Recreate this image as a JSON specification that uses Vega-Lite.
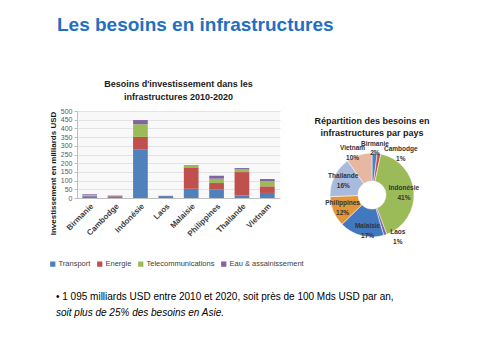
{
  "$schema": "https://vega.github.io/schema/vega-lite/v6.json",
  "background": "white",
  "padding": {"left": 49, "top": 16, "right": 0, "bottom": 0},
  "config": {"font": "Liberation Sans", "view": {"stroke": null}},
  "title": {"text": "Les besoins en infrastructures", "anchor": "start", "fontSize": 19, "fontWeight": "bold", "color": "#1F6FC4", "dx": 8, "offset": 45, "font": "Liberation Sans"},
  "spacing": 12,
  "vconcat": [
    {
      "resolve": {"scale": {"color": "independent", "theta": "independent"}, "legend": {"color": "independent"}},
      "hconcat": [
        {
          "width": 203,
          "height": 87,
          "data": {"values": [
            {"pays": "Birmanie", "type": "Transport", "ordre": 1, "valeur": 10},
            {"pays": "Birmanie", "type": "Energie", "ordre": 2, "valeur": 3},
            {"pays": "Birmanie", "type": "Telecommunications", "ordre": 3, "valeur": 5},
            {"pays": "Birmanie", "type": "Eau & assainissement", "ordre": 4, "valeur": 4},
            {"pays": "Cambodge", "type": "Transport", "ordre": 1, "valeur": 9},
            {"pays": "Cambodge", "type": "Energie", "ordre": 2, "valeur": 4},
            {"pays": "Cambodge", "type": "Telecommunications", "ordre": 3, "valeur": 2},
            {"pays": "Cambodge", "type": "Eau & assainissement", "ordre": 4, "valeur": 0},
            {"pays": "Indonésie", "type": "Transport", "ordre": 1, "valeur": 280},
            {"pays": "Indonésie", "type": "Energie", "ordre": 2, "valeur": 71},
            {"pays": "Indonésie", "type": "Telecommunications", "ordre": 3, "valeur": 73},
            {"pays": "Indonésie", "type": "Eau & assainissement", "ordre": 4, "valeur": 24},
            {"pays": "Laos", "type": "Transport", "ordre": 1, "valeur": 11},
            {"pays": "Laos", "type": "Energie", "ordre": 2, "valeur": 1},
            {"pays": "Laos", "type": "Telecommunications", "ordre": 3, "valeur": 1},
            {"pays": "Laos", "type": "Eau & assainissement", "ordre": 4, "valeur": 0},
            {"pays": "Malaisie", "type": "Transport", "ordre": 1, "valeur": 53},
            {"pays": "Malaisie", "type": "Energie", "ordre": 2, "valeur": 123},
            {"pays": "Malaisie", "type": "Telecommunications", "ordre": 3, "valeur": 10},
            {"pays": "Malaisie", "type": "Eau & assainissement", "ordre": 4, "valeur": 3},
            {"pays": "Philippines", "type": "Transport", "ordre": 1, "valeur": 48},
            {"pays": "Philippines", "type": "Energie", "ordre": 2, "valeur": 38},
            {"pays": "Philippines", "type": "Telecommunications", "ordre": 3, "valeur": 25},
            {"pays": "Philippines", "type": "Eau & assainissement", "ordre": 4, "valeur": 17},
            {"pays": "Thailande", "type": "Transport", "ordre": 1, "valeur": 15},
            {"pays": "Thailande", "type": "Energie", "ordre": 2, "valeur": 134},
            {"pays": "Thailande", "type": "Telecommunications", "ordre": 3, "valeur": 15},
            {"pays": "Thailande", "type": "Eau & assainissement", "ordre": 4, "valeur": 8},
            {"pays": "Vietnam", "type": "Transport", "ordre": 1, "valeur": 29},
            {"pays": "Vietnam", "type": "Energie", "ordre": 2, "valeur": 38},
            {"pays": "Vietnam", "type": "Telecommunications", "ordre": 3, "valeur": 30},
            {"pays": "Vietnam", "type": "Eau & assainissement", "ordre": 4, "valeur": 12}
          ]},
          "title": {"text": ["Besoins d'investissement dans les", "infrastructures 2010-2020"], "fontSize": 9, "fontWeight": "bold", "color": "#1a1a1a", "lineHeight": 13, "offset": 5},
          "view": {"fill": "#f8f8f8"},
          "mark": {"type": "bar"},
          "encoding": {
            "x": {"field": "pays", "type": "nominal", "sort": ["Birmanie", "Cambodge", "Indonésie", "Laos", "Malaisie", "Philippines", "Thailande", "Vietnam"], "scale": {"paddingInner": 0.42, "paddingOuter": 0.21}, "axis": {"title": null, "labelAngle": -45, "labelFontSize": 8, "labelFontWeight": "bold", "labelColor": "#404040", "ticks": false, "domainColor": "#bfbfbf", "labelPadding": 4}},
            "y": {"field": "valeur", "type": "quantitative", "stack": true, "scale": {"domain": [0, 500]}, "axis": {"values": [0, 50, 100, 150, 200, 250, 300, 350, 400, 450, 500], "title": "Investissement en milliards USD", "titleFontSize": 8, "titleFontWeight": "bold", "titleColor": "#1a1a1a", "titleY": 62, "titlePadding": 3, "labelFontSize": 7, "labelColor": "#595959", "tickSize": 3, "tickColor": "#bfbfbf", "domainColor": "#bfbfbf", "gridColor": "#e3e3e3"}},
            "order": {"field": "ordre", "type": "quantitative", "sort": "ascending"},
            "color": {"field": "type", "type": "nominal", "sort": ["Transport", "Energie", "Telecommunications", "Eau & assainissement"], "scale": {"domain": ["Transport", "Energie", "Telecommunications", "Eau & assainissement"], "range": ["#4F81BD", "#C0504D", "#9BBB59", "#8064A2"]}, "legend": {"title": null, "orient": "none", "legendX": -28, "legendY": 149, "direction": "horizontal", "columns": 4, "symbolType": "square", "symbolSize": 28, "labelFontSize": 7.5, "labelColor": "#404040", "columnPadding": 5, "labelOffset": 2}}
          }
        },
        {
          "width": 100,
          "height": 168,
          "data": {"values": [
            {"pays": "Birmanie", "part": 0.02},
            {"pays": "Cambodge", "part": 0.014},
            {"pays": "Indonésie", "part": 0.409},
            {"pays": "Laos", "part": 0.012},
            {"pays": "Malaisie", "part": 0.172},
            {"pays": "Philippines", "part": 0.117},
            {"pays": "Thailande", "part": 0.157},
            {"pays": "Vietnam", "part": 0.099}
          ]},
          "title": {"text": ["Répartition des besoins en", "infrastructures par pays"], "fontSize": 9, "fontWeight": "bold", "color": "#1a1a1a", "lineHeight": 12, "offset": -27},
          "encoding": {"theta": {"field": "part", "type": "quantitative", "stack": true}, "order": {"field": "pays", "type": "nominal", "sort": "ascending"}},
          "layer": [
            {"mark": {"type": "arc", "outerRadius": 42, "innerRadius": 14, "stroke": "white", "strokeWidth": 0.5},
             "encoding": {"color": {"field": "pays", "type": "nominal", "scale": {"domain": ["Birmanie", "Cambodge", "Indonésie", "Laos", "Malaisie", "Philippines", "Thailande", "Vietnam"], "range": ["#4F81BD", "#C0504D", "#9BBB59", "#8064A2", "#4278BD", "#E49537", "#A9BBDD", "#E6B8A2"]}, "legend": null}}},
            {"mark": {"type": "text", "radius": 32, "dy": -5, "fontSize": 6.5, "fontWeight": "bold", "color": "#333333"},
             "encoding": {"text": {"condition": {"test": "indexof(['Indonésie','Philippines','Thailande'], datum.pays) >= 0", "field": "pays", "type": "nominal"}, "value": ""}}},
            {"mark": {"type": "text", "radius": 32, "dy": 5, "fontSize": 6.5, "fontWeight": "bold", "color": "#333333"},
             "encoding": {"text": {"condition": {"test": "indexof(['Indonésie','Philippines','Thailande'], datum.pays) >= 0", "field": "part", "type": "quantitative", "format": ".0%"}, "value": ""}}},
            {"mark": {"type": "text", "radius": 37, "dx": 5, "dy": -5, "fontSize": 6.5, "fontWeight": "bold", "color": "#333333"},
             "encoding": {"text": {"condition": {"test": "datum.pays == 'Malaisie'", "field": "pays", "type": "nominal"}, "value": ""}}},
            {"mark": {"type": "text", "radius": 37, "dx": 5, "dy": 5, "fontSize": 6.5, "fontWeight": "bold", "color": "#333333"},
             "encoding": {"text": {"condition": {"test": "datum.pays == 'Malaisie'", "field": "part", "type": "quantitative", "format": ".0%"}, "value": ""}}},
            {"mark": {"type": "text", "radius": 44, "dx": -6, "dy": -5, "fontSize": 6.5, "fontWeight": "bold", "color": "#333333"},
             "encoding": {"text": {"condition": {"test": "datum.pays == 'Vietnam'", "field": "pays", "type": "nominal"}, "value": ""}}},
            {"mark": {"type": "text", "radius": 44, "dx": -6, "dy": 5, "fontSize": 6.5, "fontWeight": "bold", "color": "#333333"},
             "encoding": {"text": {"condition": {"test": "datum.pays == 'Vietnam'", "field": "part", "type": "quantitative", "format": ".0%"}, "value": ""}}},
            {"mark": {"type": "text", "radius": 46, "dy": -5, "fontSize": 6.5, "fontWeight": "bold", "color": "#333333"},
             "encoding": {"text": {"condition": {"test": "datum.pays == 'Birmanie'", "field": "pays", "type": "nominal"}, "value": ""}}},
            {"mark": {"type": "text", "radius": 46, "dy": 4, "fontSize": 6.5, "fontWeight": "bold", "color": "#333333"},
             "encoding": {"text": {"condition": {"test": "datum.pays == 'Birmanie'", "field": "part", "type": "quantitative", "format": ".0%"}, "value": ""}}},
            {"mark": {"type": "text", "radius": 50, "dx": 10, "dy": -10, "fontSize": 6.5, "fontWeight": "bold", "color": "#333333"},
             "encoding": {"text": {"condition": {"test": "datum.pays == 'Laos'", "field": "pays", "type": "nominal"}, "value": ""}}},
            {"mark": {"type": "text", "radius": 50, "dx": 10, "dy": 0, "fontSize": 6.5, "fontWeight": "bold", "color": "#333333"},
             "encoding": {"text": {"condition": {"test": "datum.pays == 'Laos'", "field": "part", "type": "quantitative", "format": ".0%"}, "value": ""}}},
            {"mark": {"type": "text", "radius": 52, "dx": 20, "dy": 5, "fontSize": 6.5, "fontWeight": "bold", "color": "#333333"},
             "encoding": {"text": {"condition": {"test": "datum.pays == 'Cambodge'", "field": "pays", "type": "nominal"}, "value": ""}}},
            {"mark": {"type": "text", "radius": 52, "dx": 20, "dy": 15, "fontSize": 6.5, "fontWeight": "bold", "color": "#333333"},
             "encoding": {"text": {"condition": {"test": "datum.pays == 'Cambodge'", "field": "part", "type": "quantitative", "format": ".0%"}, "value": ""}}}
          ]
        }
      ],
      "spacing": 42,
      "bounds": "flush"
    },
    {
      "width": 380,
      "height": 1,
      "data": {"values": [{}]},
      "mark": {"type": "text"},
      "encoding": {"text": {"value": ""}},
      "title": {"text": "• 1 095 milliards USD entre 2010 et 2020, soit près de 100 Mds USD par an,", "subtitle": "soit plus de 25% des besoins en Asie.", "anchor": "start", "fontSize": 10, "fontWeight": "normal", "color": "#000000", "subtitleFontSize": 10, "subtitleFontStyle": "italic", "subtitleColor": "#000000", "subtitlePadding": 6, "dx": -21, "offset": 0}
    }
  ]
}
